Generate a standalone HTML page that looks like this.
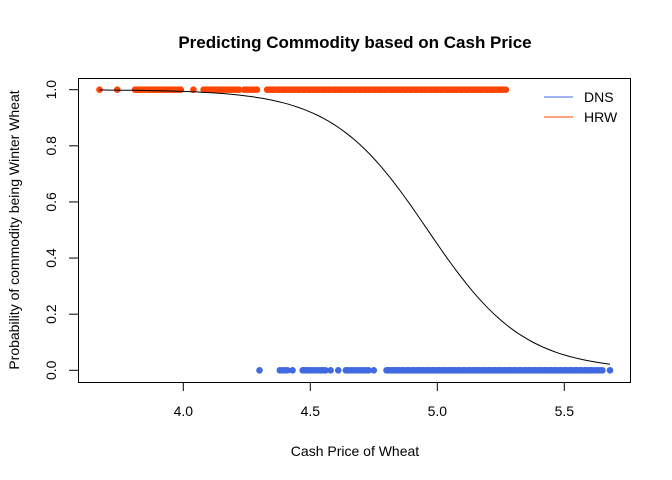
<!DOCTYPE html>
<html><head><meta charset="utf-8"><style>
body{margin:0;background:#fff}
svg{display:block;font-family:"Liberation Sans",Arial,sans-serif}
</style></head><body>
<svg id="chart" width="672" height="480" viewBox="0 0 672 480">
<rect width="672" height="480" fill="#fff"/>
<text x="355" y="48" text-anchor="middle" font-size="17" font-weight="bold">Predicting Commodity based on Cash Price</text>
<text x="355" y="456" text-anchor="middle" font-size="14">Cash Price of Wheat</text>
<text transform="translate(19,230) rotate(-90)" text-anchor="middle" font-size="14">Probability of commodity being Winter Wheat</text>
<rect x="78.5" y="78.5" width="552" height="304" fill="none" stroke="#000" stroke-width="1"/>
<g id="axes"></g>
<g id="marks"></g>
<g>
<line x1="544" y1="97" x2="573" y2="97" stroke="#4169E1"/>
<text x="584" y="102" font-size="14">DNS</text>
<line x1="544" y1="117" x2="573" y2="117" stroke="#FF4500"/>
<text x="584" y="122" font-size="14">HRW</text>
</g>
</svg>
<script>
const xTicks=[4.0,4.5,5.0,5.5];
const xTickLabels=["4.0","4.5","5.0","5.5"];
const yTicks=[0,0.2,0.4,0.6,0.8,1.0];
const yTickLabels=["0.0","0.2","0.4","0.6","0.8","1.0"];
const hrwPrices=[3.67,3.74,3.81,3.815,3.82,3.825,3.83,3.84,3.845,3.85,3.86,3.865,3.87,3.88,3.885,3.89,3.90,3.905,3.91,3.92,3.93,3.94,3.95,3.96,3.97,3.98,3.99,4.04,4.08,4.085,4.09,4.095,4.10,4.105,4.11,4.12,4.125,4.13,4.14,4.15,4.155,4.16,4.17,4.18,4.19,4.20,4.21,4.22,4.24,4.25,4.26,4.27,4.28,4.29,
4.33,4.335,4.34,4.35,4.355,4.36,4.37,4.375,4.38,4.39,4.395,4.40,4.41,4.415,4.42,4.43,4.435,4.44,4.45,4.455,4.46,4.47,4.475,4.48,4.49,4.495,4.50,4.51,4.515,4.52,4.53,4.535,4.54,4.55,4.555,4.56,4.57,4.575,4.58,4.59,4.595,4.60,4.61,4.615,4.62,4.63,4.635,4.64,4.65,4.655,4.66,4.67,4.675,4.68,4.69,4.695,4.70,4.71,4.715,4.72,4.73,4.735,4.74,4.75,4.755,4.76,4.77,4.775,4.78,4.79,4.795,4.80,4.81,4.815,4.82,4.83,4.835,4.84,4.85,4.855,4.86,4.87,4.875,4.88,4.89,4.895,4.90,4.91,4.915,4.92,4.93,4.935,4.94,4.95,4.955,4.96,4.97,4.975,4.98,4.99,4.995,5.00,5.01,5.015,5.02,5.03,5.035,5.04,5.05,5.055,5.06,5.07,5.075,5.08,5.09,5.095,5.10,5.11,5.115,5.12,5.13,5.135,5.14,5.15,5.155,5.16,5.17,5.175,5.18,5.19,5.195,5.20,5.21,5.215,5.22,5.23,5.235,5.24,5.25,5.26,5.27];
const dnsPrices=[4.30,4.38,4.39,4.40,4.41,4.43,4.47,4.475,4.48,4.49,4.50,4.51,4.52,4.53,4.54,4.55,4.56,4.58,4.61,4.64,4.645,4.65,4.66,4.67,4.68,4.69,4.70,4.71,4.72,4.73,4.75,
4.80,4.805,4.81,4.82,4.825,4.83,4.84,4.845,4.85,4.86,4.865,4.87,4.88,4.885,4.89,4.90,4.905,4.91,4.92,4.925,4.93,4.94,4.945,4.95,4.96,4.965,4.97,4.98,4.985,4.99,5.00,5.005,5.01,5.02,5.025,5.03,5.04,5.045,5.05,5.06,5.065,5.07,5.08,5.085,5.09,5.10,5.105,5.11,5.12,5.125,5.13,5.14,5.145,5.15,5.16,5.165,5.17,5.18,5.185,5.19,5.20,5.205,5.21,5.22,5.225,5.23,5.24,5.245,5.25,5.26,5.265,5.27,5.28,5.285,5.29,5.30,5.305,5.31,5.32,5.325,5.33,5.34,5.345,5.35,5.36,5.365,5.37,5.38,5.385,5.39,5.40,5.405,5.41,5.42,5.425,5.43,5.44,5.445,5.45,5.46,5.465,5.47,5.48,5.485,5.49,5.50,5.505,5.51,5.52,5.525,5.53,5.54,5.545,5.55,5.56,5.565,5.57,5.58,5.585,5.59,5.60,5.605,5.61,5.62,5.63,5.64,5.65,5.68];
const hrwValues=hrwPrices.map(()=>1);
const dnsValues=dnsPrices.map(()=>0);
const fitCoef=[26.3,-5.3]; // intercept, slope
const fitRange=[3.67,5.68];

const X=v=>183.3+(v-4.0)*254;
const Y=v=>370.3-v*280.6;
const NS="http://www.w3.org/2000/svg";
const axes=document.getElementById('axes'), marks=document.getElementById('marks');
function mk(tag,attrs,parent){const e=document.createElementNS(NS,tag);for(const k in attrs)e.setAttribute(k,attrs[k]);parent.appendChild(e);return e;}
xTicks.forEach((t,i)=>{
 const l=mk('line',{x1:X(t),x2:X(t),y1:382.5,y2:391,stroke:'#000'},axes);
 
 
 const tx=mk('text',{x:X(t),y:416,'text-anchor':'middle','font-size':14},axes);tx.textContent=xTickLabels[i];
 
 
});
yTicks.forEach((t,i)=>{
 const l=mk('line',{x1:69,x2:78.5,y1:Y(t),y2:Y(t),stroke:'#000'},axes);
 
 
 const tx=mk('text',{transform:`translate(56,${Y(t)}) rotate(-90)`,'text-anchor':'middle','font-size':14},axes);tx.textContent=yTickLabels[i];
 
 
});
hrwPrices.forEach((p,i)=>{
 const c=mk('circle',{cx:X(p),cy:Y(hrwValues[i]),r:3.3,fill:'#FF4500'},marks);
 
 
});
dnsPrices.forEach((p,i)=>{
 const c=mk('circle',{cx:X(p),cy:Y(dnsValues[i]),r:3.3,fill:'#4169E1'},marks);
 
 
});
let d='';
for(let k=0;k<=100;k++){const x=fitRange[0]+(fitRange[1]-fitRange[0])*k/100;const p=1/(1+Math.exp(-(fitCoef[0]+fitCoef[1]*x)));d+=(k?'L':'M')+X(x).toFixed(1)+','+Y(p).toFixed(1);}
const path=mk('path',{d:d,fill:'none',stroke:'#000','stroke-width':1},marks);


</script>
</body></html>
